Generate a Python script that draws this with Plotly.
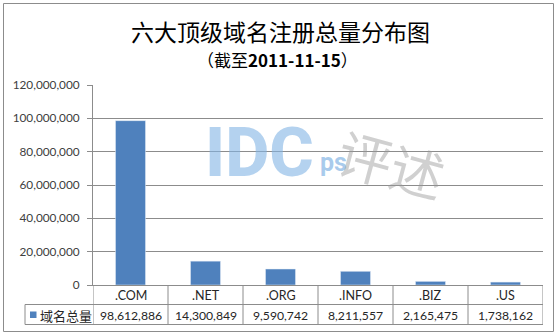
import plotly.graph_objects as go

categories = [".COM", ".NET", ".ORG", ".INFO", ".BIZ", ".US"]
values = [98612886, 14300849, 9590742, 8211557, 2165475, 1738162]
series_name = "域名总量"
title_text = "六大顶级域名注册总量分布图"
subtitle_text = "（截至<b>2011-11-15</b>）"
y_ticks = [0, 20000000, 40000000, 60000000, 80000000, 100000000, 120000000]

BAR = "#4F81BD"
GRID = "#8C8C8C"
TXT = "#262626"
FONT = "Lato, 'Noto Sans CJK SC', sans-serif"

W, H = 558, 335
L, R, T, B = 93, 15, 85, 50  # plot area 93..543, 85..285
pw = W - L - R
ph = H - T - B

def px_to_paper_x(px):
    return (px - L) / pw

def px_to_paper_y(py):
    return (H - B - py) / ph

fig = go.Figure()
fig.add_trace(go.Bar(x=categories, y=values, marker_color=BAR, width=0.4,
                     name=series_name, showlegend=False))

fig.update_layout(
    width=W, height=H,
    margin=dict(l=L, r=R, t=T, b=B, pad=0),
    paper_bgcolor="white", plot_bgcolor="white",
    font=dict(family=FONT, size=12, color=TXT),
    xaxis=dict(showticklabels=False, showline=True, linecolor=GRID, linewidth=1,
               ticks="", showgrid=False, range=[-0.5, len(categories) - 0.5]),
    yaxis=dict(range=[0, 120000000], tickvals=y_ticks, tickformat=",d",
               showgrid=True, gridcolor=GRID, gridwidth=1, zeroline=False,
               showline=True, linecolor=GRID, ticks="outside", ticklen=5,
               tickcolor=GRID, tickfont=dict(size=11.8, color="#404040"),
               ticklabelstandoff=5),
)

shapes = []
y_row = px_to_paper_y(304.5)
y_bot = px_to_paper_y(324.5)
x_left = px_to_paper_x(25)
for i in range(len(categories) + 1):
    shapes.append(dict(type="line", xref="x", yref="paper", x0=i - 0.5, x1=i - 0.5,
                       y0=0, y1=y_bot, line=dict(color=GRID, width=1)))
shapes.append(dict(type="line", xref="paper", yref="paper", x0=x_left, x1=x_left,
                   y0=y_row, y1=y_bot, line=dict(color=GRID, width=1)))
for yy in (y_row, y_bot):
    shapes.append(dict(type="line", xref="paper", yref="paper", x0=x_left, x1=1,
                       y0=yy, y1=yy, line=dict(color=GRID, width=1)))
shapes.append(dict(type="rect", xref="paper", yref="paper",
                   x0=px_to_paper_x(30), x1=px_to_paper_x(36.5),
                   y0=px_to_paper_y(318), y1=px_to_paper_y(311.5),
                   fillcolor=BAR, line=dict(width=0)))
shapes.append(dict(type="rect", xref="paper", yref="paper",
                   x0=px_to_paper_x(3.5), x1=px_to_paper_x(553.5),
                   y0=px_to_paper_y(331.5), y1=px_to_paper_y(3.5),
                   line=dict(color="#8C8C8C", width=1), fillcolor="rgba(0,0,0,0)", layer="below"))

annotations = []
for c, v in zip(categories, values):
    annotations.append(dict(x=c, xref="x", y=px_to_paper_y(295), yref="paper",
                            text=c, showarrow=False, font=dict(size=12.5, color=TXT),
                            xanchor="center", yanchor="middle"))
    annotations.append(dict(x=c, xref="x", y=px_to_paper_y(315), yref="paper",
                            text=f"{v:,}", showarrow=False, font=dict(size=12.2, color=TXT),
                            xanchor="center", yanchor="middle"))
annotations.append(dict(x=px_to_paper_x(38), xref="paper", y=px_to_paper_y(315), yref="paper",
                        text=series_name, showarrow=False, xanchor="left", yanchor="middle",
                        font=dict(size=13, color=TXT, family="'Noto Sans CJK SC', sans-serif")))
annotations.append(dict(x=px_to_paper_x(280), xref="paper", y=px_to_paper_y(31), yref="paper",
                        text=title_text, showarrow=False, xanchor="center", yanchor="middle",
                        font=dict(size=23, color="#000000", family="'Noto Sans CJK SC', sans-serif")))
annotations.append(dict(x=px_to_paper_x(277), xref="paper", y=px_to_paper_y(59), yref="paper",
                        text=subtitle_text, showarrow=False, xanchor="center", yanchor="middle",
                        font=dict(size=17, color="#000000", family="'Noto Sans CJK SC', sans-serif")))
# watermark
annotations.append(dict(x=px_to_paper_x(203), xref="paper", y=px_to_paper_y(153), yref="paper",
                        text="IDC", showarrow=False, xanchor="left", yanchor="middle",
                        font=dict(size=68, color="rgba(130,180,228,0.6)", weight=800,
                                  family="Roboto, 'Open Sans', sans-serif")))
annotations.append(dict(x=px_to_paper_x(318), xref="paper", y=px_to_paper_y(162), yref="paper",
                        text="ps", showarrow=False, xanchor="left", yanchor="middle",
                        font=dict(size=25, color="rgba(130,180,228,0.7)", weight=700,
                                  family="Roboto, 'Open Sans', sans-serif")))
annotations.append(dict(x=px_to_paper_x(392), xref="paper", y=px_to_paper_y(162), yref="paper",
                        text="评述", showarrow=False, xanchor="center", yanchor="middle", textangle=15,
                        font=dict(size=54, color="rgba(150,150,150,0.45)", family="'Noto Sans CJK SC', sans-serif")))

fig.update_layout(shapes=shapes, annotations=annotations)
fig.write_html("out.html")
